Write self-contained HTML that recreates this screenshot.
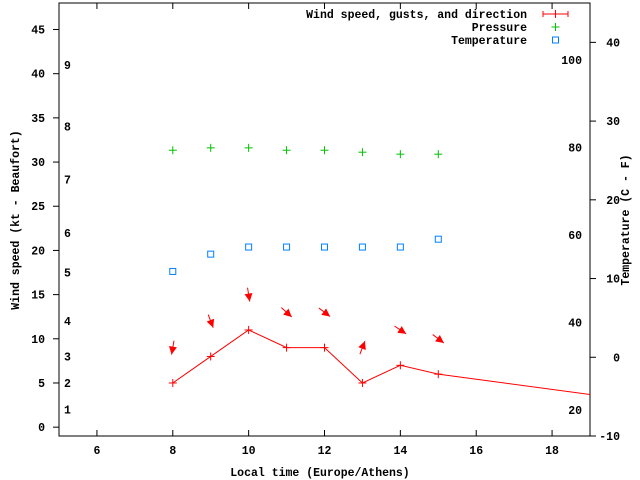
<!DOCTYPE html>
<html><head><meta charset="utf-8"><style>
html,body{margin:0;padding:0;background:#fff;}
svg{display:block;font-family:"Liberation Mono",monospace;font-weight:bold;font-size:11.5px;}
</style></head><body>
<svg id="chart" width="640" height="480" viewBox="0 0 640 480">
<g id="grid"></g>
<g id="series"></g>
<g id="legend"></g>
</svg>
<script>
const hours = [8, 9, 10, 11, 12, 13, 14, 15, 21];
const windKt = [5, 8, 11, 9, 9, 5, 7, 6, 2.55];
const windDir = [190, 159, 171, 132, 127, 21, 124, 127];
const pressure = [26.3, 26.6, 26.6, 26.3, 26.3, 26.05, 25.8, 25.8];
const tempC = [10.9, 13.1, 14.0, 14.0, 14.0, 14.0, 14.0, 15.0];
const xTicks = [6, 8, 10, 12, 14, 16, 18];
const yTicks = [0, 5, 10, 15, 20, 25, 30, 35, 40, 45];
const y2Ticks = [-10, 0, 10, 20, 30, 40];
const beaufortLabels = ["1","2","3","4","5","6","7","8","9"];
const beaufortKt = [2, 5, 8, 12, 17.5, 22, 28, 34, 41];
const fahrLabels = ["20","40","60","80","100"];
const fahrVals = [20, 40, 60, 80, 100];

const L=59, R=590, T=3, B=436;
const X = v => L + (v-5)/(19-5)*(R-L);
const Y = v => B - (v+1)/(48+1)*(B-T);
const Y2 = v => B - (v+10)/(45+10)*(B-T);
const NS="http://www.w3.org/2000/svg";
const svg=document.getElementById('chart');
const grid=document.getElementById('grid'), ser=document.getElementById('series'), leg=document.getElementById('legend');
function mk(tag, attrs, parent, text){const e=document.createElementNS(NS,tag);for(const k in attrs)e.setAttribute(k,attrs[k]);if(text!==undefined)e.textContent=text;parent.appendChild(e);return e;}

let e;
e=mk('rect',{x:L,y:T,width:R-L,height:B-T,fill:'none',stroke:'#000','stroke-width':1},grid);



xTicks.forEach(t=>{
  const x=X(t);
  mk('line',{x1:x,y1:B,x2:x,y2:B-6,stroke:'#000'},grid);
  mk('line',{x1:x,y1:T,x2:x,y2:T+6,stroke:'#000'},grid);
  e=mk('text',{x:x,y:B+18,'text-anchor':'middle'},grid,String(t));
  
  
});
yTicks.forEach(t=>{
  const y=Y(t);
  mk('line',{x1:L-6,y1:y,x2:L,y2:y,stroke:'#000'},grid);
  e=mk('text',{x:L-14,y:y+4,'text-anchor':'end'},grid,String(t));
  
  
});
y2Ticks.forEach(t=>{
  const y=Y2(t);
  mk('line',{x1:R,y1:y,x2:R+6,y2:y,stroke:'#000'},grid);
  e=mk('text',{x:R+30,y:y+4,'text-anchor':'end'},grid,String(t));
  
  
});
beaufortLabels.forEach((s,i)=>{
  e=mk('text',{x:64,y:Y(beaufortKt[i])+4},grid,s);
  
  
});
fahrLabels.forEach((s,i)=>{
  e=mk('text',{x:582,y:Y2((fahrVals[i]-32)*5/9)+4,'text-anchor':'end'},grid,s);
  
  
});
e=mk('text',{x:320,y:476,'text-anchor':'middle'},grid,'Local time (Europe/Athens)');


e=mk('text',{x:0,y:0,'text-anchor':'middle',transform:'translate(19,220) rotate(-90)'},grid,'Wind speed (kt - Beaufort)');


e=mk('text',{x:0,y:0,'text-anchor':'middle',transform:'translate(629,220) rotate(-90)'},grid,'Temperature (C - F)');



// clip
const defs=mk('defs',{},svg);
const cp=mk('clipPath',{id:'clip'},defs);
mk('rect',{x:L,y:T,width:R-L,height:B-T},cp);
ser.setAttribute('clip-path','url(#clip)');

function plus(x,y,col,parent,name){
  const g=mk('g',{},parent);
  
  
  mk('line',{x1:x-4,y1:y,x2:x+4,y2:y,stroke:col},g);
  mk('line',{x1:x,y1:y-4,x2:x,y2:y+4,stroke:col},g);
}
// wind line
e=mk('polyline',{points:hours.map((h,i)=>X(h)+','+Y(windKt[i])).join(' '),fill:'none',stroke:'#f00','stroke-width':1},ser);


hours.forEach((h,i)=>plus(X(h),Y(windKt[i]),'#f00',ser,'wind-point'));
// arrows
windDir.forEach((d,i)=>{
  const cx=X(hours[i]), cy=Y(windKt[i]+4);
  const a=d*Math.PI/180, dx=Math.sin(a), dy=-Math.cos(a);
  const len=14;
  const x1=cx-dx*len/2, y1=cy-dy*len/2, x2=cx+dx*len/2, y2=cy+dy*len/2;
  const g=mk('g',{},ser);
  
  
  mk('line',{x1:x1,y1:y1,x2:x2,y2:y2,stroke:'#f00'},g);
  const px=-dy, py=dx, hl=8, hw=4;
  const bx=x2-dx*hl, by=y2-dy*hl;
  mk('polygon',{points:`${x2},${y2} ${bx+px*hw},${by+py*hw} ${bx-px*hw},${by-py*hw}`,fill:'#f00'},g);
});
// pressure
pressure.forEach((p,i)=>plus(X(hours[i]),Y2(p),'#00c000',ser,'pressure-point'));
// temperature
tempC.forEach((t,i)=>{
  e=mk('rect',{x:X(hours[i])-3,y:Y2(t)-3,width:6,height:6,fill:'none',stroke:'#0080ff'},ser);
  
  
});
// legend
const legItems=[['Wind speed, gusts, and direction',14],['Pressure',27],['Temperature',40]];
legItems.forEach(([s,y])=>{
  e=mk('text',{x:527,y:y+4,'text-anchor':'end'},leg,s);
  
  
});
mk('line',{x1:543,y1:14,x2:568,y2:14,stroke:'#f00'},leg);
mk('line',{x1:543,y1:11,x2:543,y2:17,stroke:'#f00'},leg);
mk('line',{x1:568,y1:11,x2:568,y2:17,stroke:'#f00'},leg);
mk('line',{x1:555.5,y1:10,x2:555.5,y2:18,stroke:'#f00'},leg);
plus(555.5,27,'#00c000',leg,'legend-pressure-marker');
e=mk('rect',{x:552.5,y:37,width:6,height:6,fill:'none',stroke:'#0080ff'},leg);


</script>
</body></html>
